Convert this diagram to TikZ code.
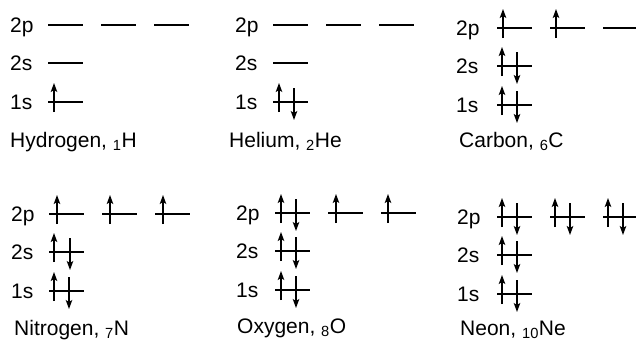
\documentclass[tikz,border=0pt]{standalone}
\usepackage{fontspec}
\setmainfont{Liberation Sans}
\usetikzlibrary{arrows.meta}

\tikzset{
	lbl/.style={anchor=base west,inner sep=0pt,font=\fontsize{21}{25}\selectfont},
	level/.style={line width=1.2pt},
	spin/.style={line width=1.2pt,-{Stealth[length=9pt,width=6.5pt,inset=2pt]}}
}

\begin{document}
\begin{tikzpicture}[x=1pt,y=-1pt]
	\useasboundingbox (0,0) rectangle (636,340);

	% hydrogen
	\begin{scope}[shift={(48,25)}]
	\node[lbl] (H2p) at (-38,7) {2p};
	\node[lbl] (H2s) at (-38,45) {2s};
	\node[lbl] (H1s) at (-38,84) {1s};
	\foreach \i in {0,1,2}
		\draw[level] (53*\i,0) -- ++(35,0);
	\draw[level] (0,38) -- ++(35,0);
	\draw[level] (0,77) -- ++(35,0);
	\draw[spin] (6,87) -- ++(0,-29);
	\node[lbl] (Hname) at (-38,122) {Hydrogen, \textsubscript{1}H};
	\end{scope}

	% helium
	\begin{scope}[shift={(273,25)}]
	\node[lbl] (He2p) at (-38,7) {2p};
	\node[lbl] (He2s) at (-38,45) {2s};
	\node[lbl] (He1s) at (-38,84) {1s};
	\foreach \i in {0,1,2}
		\draw[level] (53*\i,0) -- ++(35,0);
	\draw[level] (0,38) -- ++(35,0);
	\draw[level] (0,77) -- ++(35,0);
	\draw[spin] (6,87) -- ++(0,-29);
	\draw[spin] (21,63) -- ++(0,32);
	\node[lbl] (Hename) at (-44,122) {Helium, \textsubscript{2}He};
	\end{scope}

	% carbon
	\begin{scope}[shift={(497,28)}]
	\node[lbl] (C2p) at (-41,7) {2p};
	\node[lbl] (C2s) at (-41,45) {2s};
	\node[lbl] (C1s) at (-41,84) {1s};
	\foreach \i in {0,1,2}
		\draw[level] (53*\i,0) -- ++(35,0);
	\draw[level] (0,38) -- ++(35,0);
	\draw[level] (0,77) -- ++(35,0);
	\draw[spin] (6,10) -- ++(0,-29);
	\draw[spin] (59,10) -- ++(0,-29);
	\draw[spin] (5,48) -- ++(0,-29);
	\draw[spin] (20,24) -- ++(0,32);
	\draw[spin] (5,87) -- ++(0,-29);
	\draw[spin] (20,63) -- ++(0,32);
	\node[lbl] (Cname) at (-38,119) {Carbon, \textsubscript{6}C};
	\end{scope}

	% nitrogen
	\begin{scope}[shift={(49,214)}]
	\node[lbl] (N2p) at (-38,7) {2p};
	\node[lbl] (N2s) at (-38,45) {2s};
	\node[lbl] (N1s) at (-38,84) {1s};
	\foreach \i in {0,1,2} {
		\draw[level] (53*\i,0) -- ++(35,0);
		\draw[spin] (53*\i+8,10) -- ++(0,-29);
	}
	\draw[level] (0,38) -- ++(35,0);
	\draw[level] (0,77) -- ++(35,0);
	\draw[spin] (5,48) -- ++(0,-29);
	\draw[spin] (21,24) -- ++(0,32);
	\draw[spin] (5,87) -- ++(0,-29);
	\draw[spin] (20,63) -- ++(0,32);
	\node[lbl] (Nname) at (-35,121) {Nitrogen, \textsubscript{7}N};
	\end{scope}

	% oxygen
	\begin{scope}[shift={(275,213)}]
	\node[lbl] (O2p) at (-39,7) {2p};
	\node[lbl] (O2s) at (-39,45) {2s};
	\node[lbl] (O1s) at (-39,84) {1s};
	\foreach \i in {0,1,2}
		\draw[level] (53*\i,0) -- ++(35,0);
	\draw[spin] (6,10) -- ++(0,-29);
	\draw[spin] (21,-14) -- ++(0,32);
	\draw[spin] (61,10) -- ++(0,-29);
	\draw[spin] (113,10) -- ++(0,-29);
	\draw[level] (0,38) -- ++(35,0);
	\draw[level] (0,77) -- ++(35,0);
	\draw[spin] (6,48) -- ++(0,-29);
	\draw[spin] (21,24) -- ++(0,32);
	\draw[spin] (6,87) -- ++(0,-29);
	\draw[spin] (21,63) -- ++(0,32);
	\node[lbl] (Oname) at (-38,120) {Oxygen, \textsubscript{8}O};
	\end{scope}

	% neon
	\begin{scope}[shift={(497,217)}]
	\node[lbl] (Ne2p) at (-40,7) {2p};
	\node[lbl] (Ne2s) at (-40,45) {2s};
	\node[lbl] (Ne1s) at (-40,84) {1s};
	\foreach \i in {0,1,2} {
		\draw[level] (53*\i,0) -- ++(35,0);
		\draw[spin] (53*\i+5,10) -- ++(0,-29);
		\draw[spin] (53*\i+20,-14) -- ++(0,32);
	}
	\draw[level] (0,38) -- ++(35,0);
	\draw[level] (0,77) -- ++(35,0);
	\draw[spin] (5,48) -- ++(0,-29);
	\draw[spin] (20,24) -- ++(0,32);
	\draw[spin] (5,87) -- ++(0,-29);
	\draw[spin] (20,63) -- ++(0,32);
	\node[lbl] (Nename) at (-37,118) {Neon, \textsubscript{10}Ne};
	\end{scope}
\end{tikzpicture}
\end{document}
